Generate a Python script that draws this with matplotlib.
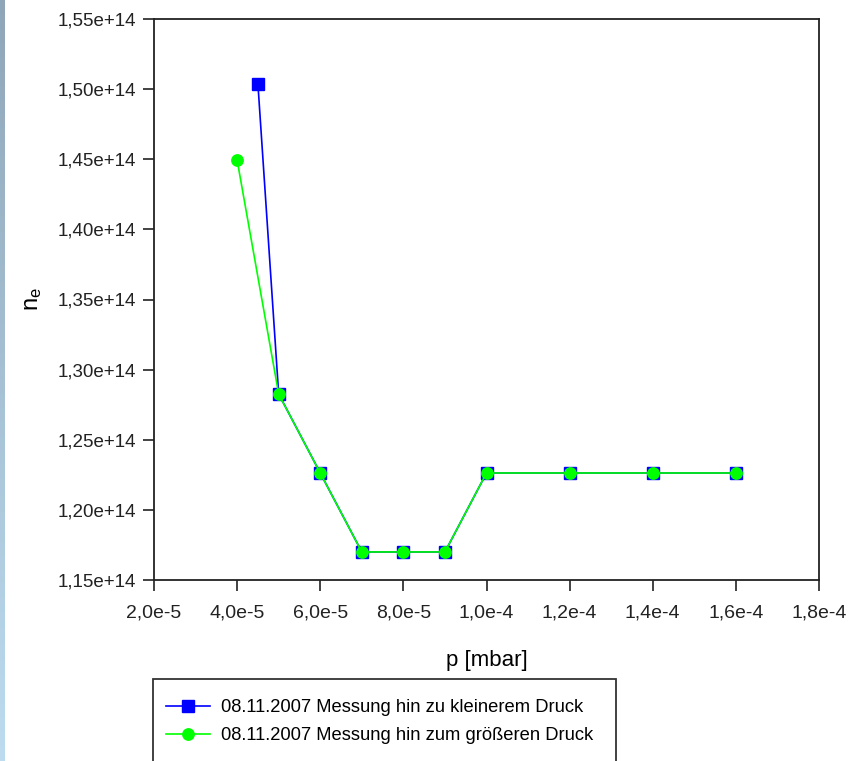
import numpy as np
import matplotlib.pyplot as plt
from matplotlib.patches import Rectangle
from matplotlib.ticker import FuncFormatter, MultipleLocator

plt.rcParams['font.family'] = ['Liberation Sans', 'DejaVu Sans']

# Messung 08.11.2007
p_down = [4.5e-5, 5e-5, 6e-5, 7e-5, 8e-5, 9e-5, 1.0e-4, 1.2e-4, 1.4e-4, 1.6e-4]
ne_down = [1.5037e14, 1.2826e14, 1.2263e14, 1.1700e14, 1.1700e14, 1.1700e14,
           1.2263e14, 1.2263e14, 1.2263e14, 1.2263e14]
p_up = [4.0e-5, 5e-5, 6e-5, 7e-5, 8e-5, 9e-5, 1.0e-4, 1.2e-4, 1.4e-4, 1.6e-4]
ne_up = [1.4494e14, 1.2826e14, 1.2263e14, 1.1700e14, 1.1700e14, 1.1700e14,
         1.2263e14, 1.2263e14, 1.2263e14, 1.2263e14]
labels = ['08.11.2007 Messung hin zu kleinerem Druck',
          '08.11.2007 Messung hin zum größeren Druck']

W, H = 860, 761
fig = plt.figure(figsize=(W / 100, H / 100), dpi=100)

# schmaler Farbverlauf am linken Rand
strip = fig.add_axes([0, 0, 5 / W, 1])
grad = np.linspace(0, 1, 256)[:, None]
top_c = np.array([0x8f, 0xa6, 0xb8]) / 255
bot_c = np.array([0xbd, 0xdc, 0xf0]) / 255
img = top_c[None, None, :] * (1 - grad[:, :, None]) + bot_c[None, None, :] * grad[:, :, None]
strip.imshow(img, aspect='auto')
strip.axis('off')

ax = fig.add_axes([154 / W, 1 - 580 / H, (819 - 154) / W, (580 - 19) / H])

ax.plot(p_down, ne_down, color='#0000ff', lw=1.2, marker='s', ms=8.5,
        mec='#0000ff', mfc='#0000ff', label=labels[0], zorder=3)
ax.plot(p_up, ne_up, color='#00ff00', lw=1.2, marker='o', ms=8.2,
        mec='#00ff00', mfc='#00ff00', label=labels[1], zorder=4)

ax.set_xlim(2e-5, 1.8e-4)
ax.set_ylim(1.15e14, 1.55e14)
ax.xaxis.set_major_locator(MultipleLocator(2e-5))
ax.yaxis.set_major_locator(MultipleLocator(0.05e14))

def fmt_x(v, pos):
    m, e = f'{v:.1e}'.split('e')
    return f'{m.replace(".", ",")}e{int(e)}'

def fmt_y(v, pos):
    m, e = f'{v:.2e}'.split('e')
    return f'{m.replace(".", ",")}e+{int(e)}'

ax.xaxis.set_major_formatter(FuncFormatter(fmt_x))
ax.yaxis.set_major_formatter(FuncFormatter(fmt_y))
ax.tick_params(direction='out', length=8, width=1.2, labelsize=13.5, pad=5, colors='#222222')
ax.tick_params(axis='x', labelsize=14, pad=10)
for s in ax.spines.values():
    s.set_linewidth(1.3)
    s.set_color('#222222')

ax.set_xlabel('p [mbar]', fontsize=16, labelpad=20)
ax.set_ylabel(r'$\mathregular{n_e}$', fontsize=17, labelpad=10)

# Legende mit Rahmen, unten abgeschnitten
frame = Rectangle((153 / W, -0.05), (616 - 153) / W, 0.05 + 1 - 679 / H,
                  transform=fig.transFigure, fill=False, ec='#333333', lw=1.3,
                  clip_on=False)
fig.add_artist(frame)
handles, lbls = ax.get_legend_handles_labels()
fig.legend(handles, lbls, loc='upper left', bbox_to_anchor=(166 / W, 1 - 699 / H),
           frameon=False, fontsize=13.2, handlelength=2.4, handletextpad=0.6,
           borderpad=0, labelspacing=0.62, borderaxespad=0)

fig.savefig('out.png', dpi=100)
